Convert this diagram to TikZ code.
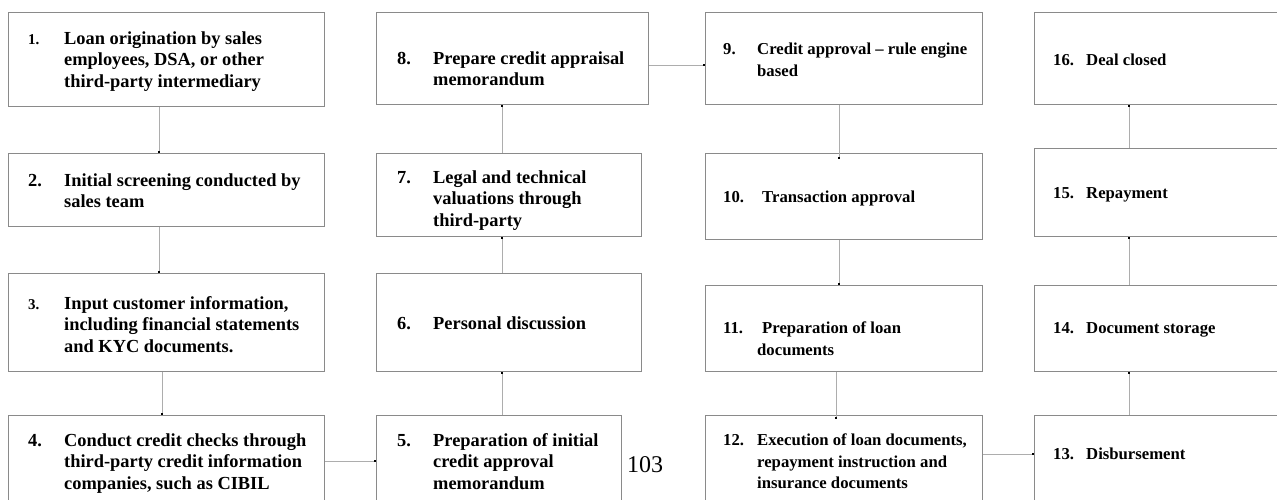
\documentclass[tikz,border=0pt]{standalone}
\usepackage{fontspec}
\setmainfont{Liberation Serif}
\usetikzlibrary{arrows.meta}
\newcommand\fA{\fontsize{18.4}{21.7}\selectfont\bfseries}
\newcommand\fB{\fontsize{16.7}{21.7}\selectfont\bfseries}
\newcommand\fN{\fontsize{15}{21.7}\selectfont\bfseries}
\tikzset{
  stagebox/.style={draw=black!46, line width=1.3pt, fill=none, inner sep=0, anchor=north west},
  txt/.style={anchor=base west, inner sep=0, text=black},
  conn/.style={draw=black!32, line width=1pt, -{Rectangle[length=1.6pt,width=1.6pt,color=black,fill=black]}},
}
\newcommand\stagenode[5]{\node[stagebox, minimum width=#3-#1, minimum height=#4-#2] (#5) at (#1,#2) {};}
\begin{document}
\begin{tikzpicture}[x=1pt,y=-1pt]
\useasboundingbox (0,0) rectangle (1277,499);
% boxes
\stagenode{8}{12}{324}{106}{b1}
\stagenode{8}{153}{324}{226}{b2}
\stagenode{8}{273}{324}{371}{b3}
\stagenode{8}{415}{324}{515}{b4}
\stagenode{376}{415}{621}{515}{b5}
\stagenode{376}{273}{641}{371}{b6}
\stagenode{376}{153}{641}{236}{b7}
\stagenode{376}{12}{648}{104}{b8}
\stagenode{705}{12}{982}{104}{b9}
\stagenode{705}{153}{982}{239}{b10}
\stagenode{705}{285}{982}{371}{b11}
\stagenode{705}{415}{982}{515}{b12}
\stagenode{1034}{415}{1300}{515}{b13}
\stagenode{1034}{285}{1300}{371}{b14}
\stagenode{1034}{148}{1300}{236}{b15}
\stagenode{1034}{12}{1300}{104}{b16}
% texts
\node[txt,font=\fA] (t1) at (28,44) {\begin{tabular}[t]{@{}p{36pt}@{}l@{}}{\fN 1.} & Loan origination by sales\\ & employees, DSA, or other\\ & third-party intermediary\end{tabular}};
\node[txt,font=\fA] (t2) at (28,186) {\begin{tabular}[t]{@{}p{36pt}@{}l@{}}2. & Initial screening conducted by\\ & sales team\end{tabular}};
\node[txt,font=\fA] (t3) at (28,309) {\begin{tabular}[t]{@{}p{36pt}@{}l@{}}{\fN 3.} & Input customer information,\\ & including financial statements\\ & and KYC documents.\end{tabular}};
\node[txt,font=\fA] (t4) at (28,446) {\begin{tabular}[t]{@{}p{36pt}@{}l@{}}4. & Conduct credit checks through\\ & third-party credit information\\ & companies, such as CIBIL\end{tabular}};
\node[txt,font=\fA] (t5) at (397,446) {\begin{tabular}[t]{@{}p{36pt}@{}l@{}}5. & Preparation of initial\\ & credit approval\\ & memorandum\end{tabular}};
\node[txt,font=\fA] (t6) at (397,329) {\begin{tabular}[t]{@{}p{36pt}@{}l@{}}6. & Personal discussion\end{tabular}};
\node[txt,font=\fA] (t7) at (397,183) {\begin{tabular}[t]{@{}p{36pt}@{}l@{}}7. & Legal and technical\\ & valuations through\\ & third-party\end{tabular}};
\node[txt,font=\fA] (t8) at (397,64) {\begin{tabular}[t]{@{}p{36pt}@{}l@{}}8. & Prepare credit appraisal\\ & memorandum\end{tabular}};
\node[txt,font=\fB] (t9) at (723,54.5) {\begin{tabular}[t]{@{}p{34pt}@{}l@{}}9. & Credit approval – rule engine\\ & based\end{tabular}};
\node[txt,font=\fB] (t10) at (723,202.5) {\begin{tabular}[t]{@{}p{34pt}@{}l@{}}10. & \hspace{5pt}Transaction approval\end{tabular}};
\node[txt,font=\fB] (t11) at (723,333.5) {\begin{tabular}[t]{@{}p{34pt}@{}l@{}}11. & \hspace{5pt}Preparation of loan\\ & documents\end{tabular}};
\node[txt,font=\fB] (t12) at (723,445.5) {\begin{tabular}[t]{@{}p{34pt}@{}l@{}}12. & Execution of loan documents,\\ & repayment instruction and\\ & insurance documents\end{tabular}};
\node[txt,font=\fB] (t13) at (1053,459.5) {\begin{tabular}[t]{@{}p{33pt}@{}l@{}}13. & Disbursement\end{tabular}};
\node[txt,font=\fB] (t14) at (1053,333.5) {\begin{tabular}[t]{@{}p{33pt}@{}l@{}}14. & Document storage\end{tabular}};
\node[txt,font=\fB] (t15) at (1053,198.5) {\begin{tabular}[t]{@{}p{33pt}@{}l@{}}15. & Repayment\end{tabular}};
\node[txt,font=\fB] (t16) at (1053,65.5) {\begin{tabular}[t]{@{}p{33pt}@{}l@{}}16. & Deal closed\end{tabular}};
\node[txt,font=\fontsize{24}{28}\selectfont] (pg) at (627,472) {103};
% connector columns
\coordinate (xa) at (159,0);
\coordinate (xb) at (162,0);
\coordinate (xc) at (502,0);
\coordinate (xd) at (839,0);
\coordinate (xe) at (836,0);
\coordinate (xf) at (1129,0);
\coordinate (ya) at (0,461);
\coordinate (yb) at (0,65);
\coordinate (yc) at (0,454);
% connectors
\draw[conn] (b1.south -| xa) -- (b2.north -| xa);
\draw[conn] (b2.south -| xa) -- (b3.north -| xa);
\draw[conn] (b3.south -| xb) -- (b4.north -| xb);
\draw[conn] (b4.east |- ya) -- (b5.west |- ya);
\draw[conn] (b5.north -| xc) -- (b6.south -| xc);
\draw[conn] (b6.north -| xc) -- (b7.south -| xc);
\draw[conn] (b7.north -| xc) -- (b8.south -| xc);
\draw[conn] (b8.east |- yb) -- (b9.west |- yb);
\draw[conn] (b9.south -| xd) -- ([yshift=-6pt]b10.north -| xd);
\draw[conn] (b10.south -| xd) -- (b11.north -| xd);
\draw[conn] (b11.south -| xe) -- ([yshift=-4pt]b12.north -| xe);
\draw[conn] (b12.east |- yc) -- (b13.west |- yc);
\draw[conn] (b13.north -| xf) -- (b14.south -| xf);
\draw[conn] (b14.north -| xf) -- (b15.south -| xf);
\draw[conn] (b15.north -| xf) -- (b16.south -| xf);
\end{tikzpicture}
\end{document}
